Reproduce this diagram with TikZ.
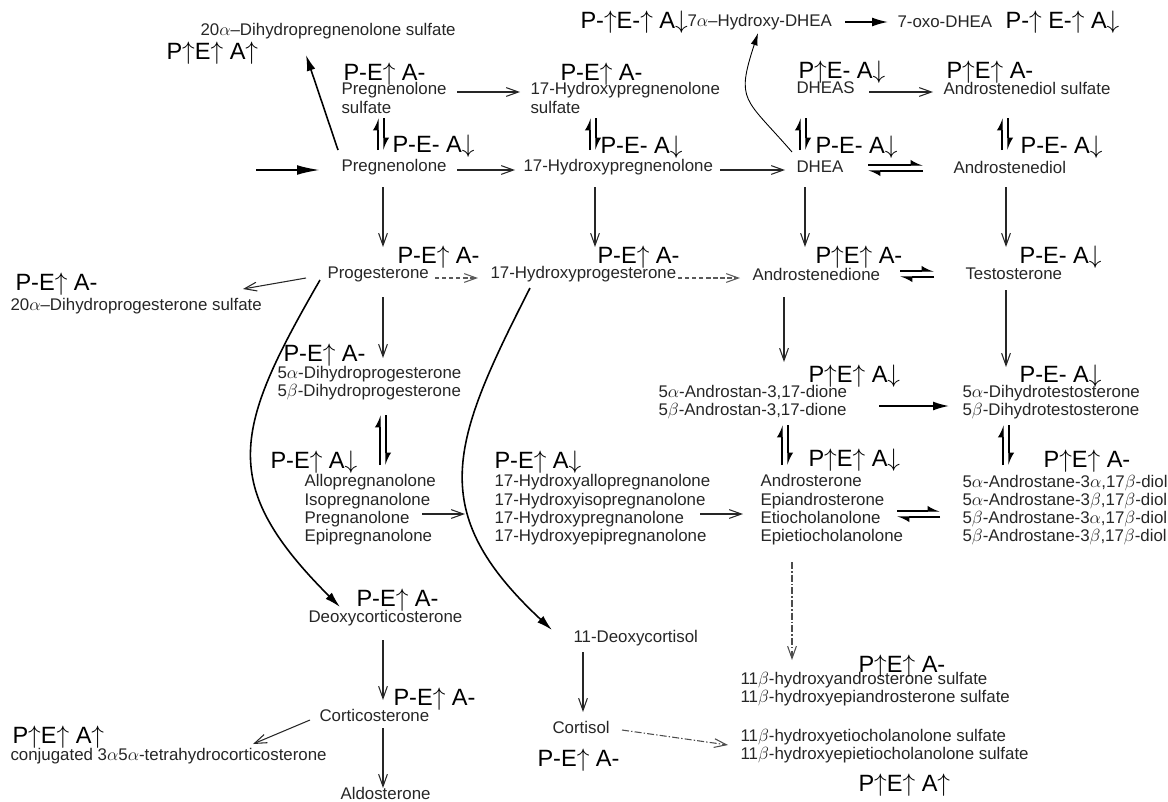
\documentclass[tikz,border=0pt]{standalone}
\usepackage{fontspec}
\newfontfamily\arial{Liberation Sans}
\usetikzlibrary{arrows.meta}
\newcommand\ua{$\uparrow$}
\newcommand\da{$\downarrow$}
\tikzset{every picture/.style={line width=0.6pt}}
\tikzset{
  cmp/.style={anchor=west, inner sep=0pt, align=left, text=black!85,
    font=\arial\fontsize{9.6}{10.4}\selectfont},
  lab/.style={anchor=west, inner sep=0pt, font=\arial\fontsize{13.4}{14}\selectfont},
  arr/.style={draw=black!85, -{Straight Barb[length=7pt,width=5pt]}},
  fat/.style={draw=black, line width=0.9pt, -{Latex[length=9pt,width=5pt]}},
  big/.style={draw=black, line width=1.1pt, -{Latex[length=13pt,width=5.5pt]}},
  harp/.style={draw=black, line width=0.7pt, -{Latex[left,length=6pt,width=6pt]}},
  dsh/.style={arr, draw=black!65, dash pattern=on 2.5pt off 1.5pt},
  dashdot/.style={arr, draw=black!70, dash pattern=on 4pt off 1.2pt on 0.8pt off 1.2pt}
}

\begin{document}
\begin{tikzpicture}[x=0.02cm, y=-0.02cm]
    \useasboundingbox (0,0) rectangle (1168,801);

    % Compounds
    \node[cmp] (dpsul) at (200,31) {20$\alpha$–Dihydropregnenolone sulfate};
    \node[cmp] (ohdhea) at (687,22) {7$\alpha$–Hydroxy-DHEA};
    \node[cmp] (oxo) at (897,22) {7-oxo-DHEA};
    \node[cmp] (pregs) at (341,98) {Pregnenolone\\sulfate};
    \node[cmp] (ohpregs) at (530,98) {17-Hydroxypregnenolone\\sulfate};
    \node[cmp] (dheas) at (796,88) {DHEAS};
    \node[cmp] (adiols) at (943,88) {Androstenediol sulfate};
    \node[cmp] (preg) at (341,167) {Pregnenolone};
    \node[cmp] (ohpreg) at (523,167) {17-Hydroxypregnenolone};
    \node[cmp] (dhea) at (796,167) {DHEA};
    \node[cmp] (adiol) at (953,167) {Androstenediol};
    \node[cmp] (prog) at (327,274) {Progesterone};
    \node[cmp] (dhps) at (10,306) {20$\alpha$–Dihydroprogesterone sulfate};
    \node[cmp] (ohprog) at (490,274) {17-Hydroxyprogesterone};
    \node[cmp] (adione) at (752,274) {Androstenedione};
    \node[cmp] (testo) at (965,274) {Testosterone};
    \node[cmp] (dhp) at (277,383) {5$\alpha$-Dihydroprogesterone\\5$\beta$-Dihydroprogesterone};
    \node[cmp] (andro) at (658,402) {5$\alpha$-Androstan-3,17-dione\\5$\beta$-Androstan-3,17-dione};
    \node[cmp] (dht) at (962,402) {5$\alpha$-Dihydrotestosterone\\5$\beta$-Dihydrotestosterone};
    \node[cmp] (allo) at (304,510) {Allopregnanolone\\Isopregnanolone\\Pregnanolone\\Epipregnanolone};
    \node[cmp] (ohallo) at (494,510) {17-Hydroxyallopregnanolone\\17-Hydroxyisopregnanolone\\17-Hydroxypregnanolone\\17-Hydroxyepipregnanolone};
    \node[cmp] (ster) at (760,510) {Androsterone\\Epiandrosterone\\Etiocholanolone\\Epietiocholanolone};
    \node[cmp] (diol) at (962,510) {5$\alpha$-Androstane-3$\alpha$,17$\beta$-diol\\5$\alpha$-Androstane-3$\beta$,17$\beta$-diol\\5$\beta$-Androstane-3$\alpha$,17$\beta$-diol\\5$\beta$-Androstane-3$\beta$,17$\beta$-diol};
    \node[cmp] (doc) at (308,618) {Deoxycorticosterone};
    \node[cmp] (dcort) at (573,638) {11-Deoxycortisol};
    \node[cmp] (cort) at (552,727) {Cortisol};
    \node[cmp] (cortico) at (319,715) {Corticosterone};
    \node[cmp] (thb) at (10,756) {conjugated 3$\alpha$5$\alpha$-tetrahydrocorticosterone};
    \node[cmp] (aldo) at (340,793) {Aldosterone};
    \node[cmp] (hyda) at (740,689) {11$\beta$-hydroxyandrosterone sulfate\\11$\beta$-hydroxyepiandrosterone sulfate};
    \node[cmp] (hyde) at (740,746) {11$\beta$-hydroxyetiocholanolone sulfate\\11$\beta$-hydroxyepietiocholanolone sulfate};

    % Labels
    \node[lab] (l-dpsul) at (166,53) {P\ua E\ua\ A\ua};
    \node[lab] (l-ohdhea) at (580,22) {P-\ua E-\ua\ A\da};
    \node[lab] (l-oxo) at (1005,22) {P-\ua\ E-\ua\ A\da};
    \node[lab] (l-pregs) at (343,74) {P-E\ua\ A-};
    \node[lab] (l-ohpregs) at (560,74) {P-E\ua\ A-};
    \node[lab] (l-dheas) at (798,72) {P\ua E- A\da};
    \node[lab] (l-adiols) at (946,72) {P\ua E\ua\ A-};
    \node[lab] (l-preg) at (392,146) {P-E- A\da};
    \node[lab] (l-ohpreg) at (600,147) {P-E- A\da};
    \node[lab] (l-dhea) at (815,147) {P-E- A\da};
    \node[lab] (l-adiol) at (1020,147) {P-E- A\da};
    \node[lab] (l-prog) at (397,257) {P-E\ua\ A-};
    \node[lab] (l-dhps) at (15,284) {P-E\ua\ A-};
    \node[lab] (l-ohprog) at (597,257) {P-E\ua\ A-};
    \node[lab] (l-adione) at (815,257) {P\ua E\ua\ A-};
    \node[lab] (l-testo) at (1019,257) {P-E- A\da};
    \node[lab] (l-dhp) at (283,355) {P-E\ua\ A-};
    \node[lab] (l-andro) at (808,376) {P\ua E\ua\ A\da};
    \node[lab] (l-dht) at (1019,376) {P-E- A\da};
    \node[lab] (l-allo) at (270,462) {P-E\ua\ A\da};
    \node[lab] (l-ohallo) at (494,462) {P-E\ua\ A\da};
    \node[lab] (l-ster) at (808,460) {P\ua E\ua\ A\da};
    \node[lab] (l-diol) at (1043,461) {P\ua E\ua\ A-};
    \node[lab] (l-doc) at (356,600) {P-E\ua\ A-};
    \node[lab] (l-cortico) at (393,699) {P-E\ua\ A-};
    \node[lab] (l-thb) at (12,737) {P\ua E\ua\ A\ua};
    \node[lab] (l-cort) at (537,760) {P-E\ua\ A-};
    \node[lab] (l-hyda) at (858,666) {P\ua E\ua\ A-};
    \node[lab] (l-hyde) at (858,785) {P\ua E\ua\ A\ua};

    % Connections
    \coordinate (src) at (256,170);
    \draw[big] (src) -- ([shift={(-21,3)}]preg.west);
    \draw[fat] ([shift={(-3,-17)}]preg.west) -- ([shift={(106,24)}]dpsul.west);
    \draw[arr] ([shift={(116,-6)}]pregs.west) -- ([shift={(-10,-6)}]ohpregs.west);
    \draw[arr] ([shift={(116,3)}]preg.west) -- ([shift={(-8,3)}]ohpreg.west);
    \draw[arr] ([shift={(197,3)}]ohpreg.west) -- ([shift={(-11,3)}]dhea.west);
    \draw[arr] ([shift={(73,4)}]dheas.west) -- ([shift={(-10,4)}]adiols.west);
    \draw[fat] ([shift={(158,0)}]ohdhea.west) -- ([shift={(-9,0)}]oxo.west);
    \draw[draw=black, line width=0.5pt, -{Latex[length=7pt,width=4pt]}]
      ([shift={(-4,-15)}]dhea.west) to[out=131,in=-108,looseness=1.5] ([shift={(71,11)}]ohdhea.west);

    % reversible steps
    \draw[harp] ([shift={(37,-17)}]preg.west) -- ([shift={(37,20)}]pregs.west);
    \draw[harp] ([shift={(43,20)}]pregs.west) -- ([shift={(43,-17)}]preg.west);
    \draw[harp] ([shift={(67,-17)}]ohpreg.west) -- ([shift={(60,20)}]ohpregs.west);
    \draw[harp] ([shift={(66,20)}]ohpregs.west) -- ([shift={(73,-17)}]ohpreg.west);
    \draw[harp] ([shift={(4,-17)}]dhea.west) -- ([shift={(4,30)}]dheas.west);
    \draw[harp] ([shift={(10,30)}]dheas.west) -- ([shift={(10,-17)}]dhea.west);
    \draw[harp] ([shift={(49,-17)}]adiol.west) -- ([shift={(59,30)}]adiols.west);
    \draw[harp] ([shift={(65,30)}]adiols.west) -- ([shift={(55,-17)}]adiol.west);
    \draw[harp] ([shift={(72,-2)}]dhea.west) -- ([shift={(-30,-2)}]adiol.west);
    \draw[harp] ([shift={(-30,4)}]adiol.west) -- ([shift={(72,4)}]dhea.west);
    \draw[harp] ([shift={(148,-3)}]adione.west) -- ([shift={(-31,-3)}]testo.west);
    \draw[harp] ([shift={(-31,3)}]testo.west) -- ([shift={(148,3)}]adione.west);
    \draw[harp] ([shift={(76,-45)}]allo.west) -- ([shift={(103,32)}]dhp.west);
    \draw[harp] ([shift={(109,32)}]dhp.west) -- ([shift={(82,-45)}]allo.west);
    \draw[harp] ([shift={(22,-45)}]ster.west) -- ([shift={(124,23)}]andro.west);
    \draw[harp] ([shift={(130,23)}]andro.west) -- ([shift={(28,-45)}]ster.west);
    \draw[harp] ([shift={(41,-45)}]diol.west) -- ([shift={(41,23)}]dht.west);
    \draw[harp] ([shift={(47,23)}]dht.west) -- ([shift={(47,-45)}]diol.west);
    \draw[harp] ([shift={(137,1)}]ster.west) -- ([shift={(-22,1)}]diol.west);
    \draw[harp] ([shift={(-22,7)}]diol.west) -- ([shift={(137,7)}]ster.west);

    % downward steps
    \draw[arr] ([shift={(42,20)}]preg.west) -- ([shift={(56,-27)}]prog.west);
    \draw[arr] ([shift={(72,20)}]ohpreg.west) -- ([shift={(105,-27)}]ohprog.west);
    \draw[arr] ([shift={(9,20)}]dhea.west) -- ([shift={(53,-27)}]adione.west);
    \draw[arr] ([shift={(53,20)}]adiol.west) -- ([shift={(41,-27)}]testo.west);
    \draw[arr] ([shift={(-21,4)}]prog.west) -- ([shift={(233,-17)}]dhps.west);
    \draw[dsh] ([shift={(108,4)}]prog.west) -- ([shift={(-12,4)}]ohprog.west);
    \draw[dsh] ([shift={(188,4)}]ohprog.west) -- ([shift={(-12,4)}]adione.west);
    \draw[arr] ([shift={(56,23)}]prog.west) -- ([shift={(106,-25)}]dhp.west);
    \draw[arr] ([shift={(32,23)}]adione.west) -- ([shift={(126,-40)}]andro.west);
    \draw[arr] ([shift={(41,16)}]testo.west) -- ([shift={(44,-35)}]dht.west);
    \draw[fat] ([shift={(221,4)}]andro.west) -- ([shift={(-13,4)}]dht.west);
    \draw[arr] ([shift={(118,4)}]allo.west) -- ([shift={(-29,4)}]ohallo.west);
    \draw[arr] ([shift={(206,4)}]ohallo.west) -- ([shift={(-17,4)}]ster.west);

    % corticoids
    \draw[fat] ([shift={(-7,6)}]prog.west) to[out=-120,in=135,looseness=1.35] ([shift={(32,-11)}]doc.west);
    \draw[fat] ([shift={(40,14)}]ohprog.west) to[out=-117,in=137,looseness=1.3] ([shift={(-21,-8)}]dcort.west);
    \draw[arr] ([shift={(75,22)}]doc.west) -- ([shift={(64,-15)}]cortico.west);
    \draw[arr] ([shift={(-9,5)}]cortico.west) -- ([shift={(243,-12)}]thb.west);
    \draw[arr] ([shift={(64,13)}]cortico.west) -- ([shift={(43,-5)}]aldo.west);
    \draw[arr] ([shift={(10,14)}]dcort.west) -- ([shift={(31,-15)}]cort.west);
    \draw[dashdot] ([shift={(70,3)}]cort.west) -- ([shift={(-12,-1)}]hyde.west);
    \draw[dashdot] ([shift={(32,52)}]ster.west) -- ([shift={(52,-29)}]hyda.west);
\end{tikzpicture}
\end{document}
